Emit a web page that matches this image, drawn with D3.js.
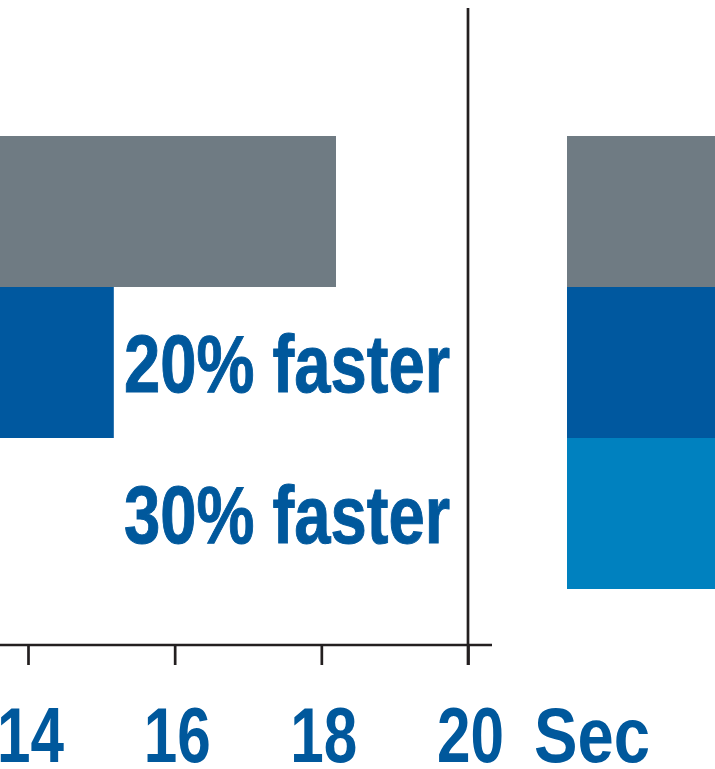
<!DOCTYPE html>
<html>
<head>
<meta charset="utf-8">
<script src="https://cdn.jsdelivr.net/npm/d3@7"></script>
<style>
  body { margin: 0; background: #fff; }
  svg { display: block; }
  text { font-family: "Liberation Sans Narrow", "Liberation Sans", sans-serif; font-weight: bold; fill: #00589c; }
</style>
</head>
<body>
<svg id="chart" width="715" height="769"></svg>
<script>
// seconds per run, left panel and (cut off) right panel
var categories = ["Baseline", "20% faster", "30% faster"];
var leftValues = [18.2, 15.17, 12.7];
var rightValues = [12.5, 10.4, 9.6];
var tickValues = [14, 16, 18, 20];
var labelTexts = ["", "20% faster", "30% faster"];
var colors = ["#6f7b83", "#00589f", "#0081bf"];

var svg = d3.select("#chart");

var x = d3.scaleLinear().domain([14, 20]).range([28, 468]);
// right panel starts at its own zero
var x2 = d3.scaleLinear().domain([0, 6]).range([567, 1007]);

var y = d3.scaleBand().domain(categories).range([136, 589]).padding(0);

var axisY = 645;

// left bars
svg.append("g").selectAll("rect")
    .data(leftValues)
    .enter().append("rect")
    .attr("x", x(0))
    .attr("y", function(d, i) { return y(categories[i]); })
    .attr("width", function(d) { return x(d) - x(0); })
    .attr("height", y.bandwidth())
    .attr("fill", function(d, i) { return colors[i]; });

// right bars
svg.append("g").selectAll("rect")
    .data(rightValues)
    .enter().append("rect")
    .attr("x", x2(0))
    .attr("y", function(d, i) { return y(categories[i]); })
    .attr("width", function(d) { return x2(d) - x2(0); })
    .attr("height", y.bandwidth())
    .attr("fill", function(d, i) { return colors[i]; });

// x axis
var axis = d3.axisBottom(x)
    .tickValues(tickValues)
    .tickSize(20)
    .tickSizeOuter(0)
    .tickFormat(d3.format("d"));

var gAxis = svg.append("g")
    .attr("transform", "translate(0," + axisY + ")")
    .call(axis);

gAxis.select(".domain").remove();
gAxis.selectAll(".tick line")
    .attr("stroke", "#231f20")
    .attr("stroke-width", 2.7);
gAxis.selectAll(".tick text")
    .attr("y", 117)
    .attr("dy", 0)
    .attr("x", 2)
    .attr("textLength", 67)
    .attr("lengthAdjust", "spacingAndGlyphs")
    .style("font-size", "77px")
    .attr("fill", "#00589c");

svg.append("line")
    .attr("x1", x(0)).attr("x2", x(20) + 24)
    .attr("y1", axisY).attr("y2", axisY)
    .attr("stroke", "#231f20")
    .attr("stroke-width", 2.7);

// vertical line at 20
svg.append("line")
    .attr("x1", x(20)).attr("x2", x(20))
    .attr("y1", 8).attr("y2", axisY + 20)
    .attr("stroke", "#231f20")
    .attr("stroke-width", 2.7);

svg.append("text")
    .attr("x", x(20) + 66)
    .attr("y", 762)
    .attr("textLength", 116)
    .attr("lengthAdjust", "spacingAndGlyphs")
    .style("font-size", "77px")
    .text("Sec");

// bar labels
svg.append("g").selectAll("text")
    .data(labelTexts)
    .enter().append("text")
    .attr("x", x(20) - 18)
    .attr("y", function(d, i) { return y(categories[i]) + y.bandwidth() / 2 + 29; })
    .attr("text-anchor", "end")
    .attr("textLength", function(d) { return d ? 326 : null; })
    .attr("lengthAdjust", "spacingAndGlyphs")
    .style("font-size", "81px")
    .style("stroke", "#00589c")
    .style("stroke-width", 1)
    .text(function(d) { return d; });
</script>
</body>
</html>
